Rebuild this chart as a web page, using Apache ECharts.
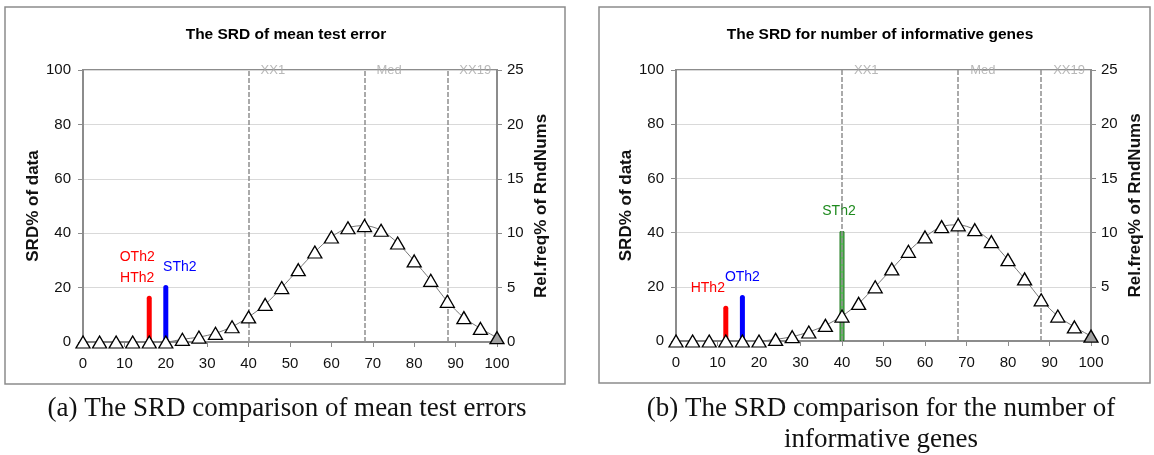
<!DOCTYPE html>
<html>
<head>
<meta charset="utf-8">
<title>SRD comparison</title>
<script src="https://cdn.jsdelivr.net/npm/echarts@6/dist/echarts.min.js"></script>
<style>
  html, body { margin: 0; padding: 0; background: #fff; }
  #main { width: 1154px; height: 455px; }
</style>
</head>
<body>
<div id="main"></div>
<script>
// x positions of the reference distribution (percent)
var xPos = [0, 4, 8, 12, 16, 20, 24, 28, 32, 36, 40, 44, 48, 52, 56, 60, 64, 68, 72, 76, 80, 84, 88, 92, 96, 100];
// Rel.freq% of RndNums
var relFreqA = [0, 0, 0, 0, 0, 0, 0.25, 0.45, 0.8, 1.4, 2.3, 3.45, 5.0, 6.65, 8.27, 9.65, 10.5, 10.7, 10.27, 9.1, 7.45, 5.67, 3.74, 2.24, 1.25, 0.4];
var relFreqB = [0, 0, 0, 0, 0, 0, 0.15, 0.4, 0.83, 1.44, 2.3, 3.47, 5.0, 6.65, 8.27, 9.6, 10.55, 10.72, 10.27, 9.16, 7.5, 5.73, 3.8, 2.3, 1.3, 0.45];

// reference lines
var refLines = [40, 68, 88];
var refNames = ['XX1', 'Med', 'XX19'];

// threshold bars (SRD% of data)
var barPosA = [16, 20];
var barValA = [17, 21];
var barNameA = ['OTh2\nHTh2', 'STh2'];

var barPosB = [12, 16, 40];
var barValB = [13, 17, 40.5];
var barNameB = ['HTh2', 'OTh2', 'STh2'];

var titleA = 'The SRD of mean test error';
var titleB = 'The SRD for number of informative genes';
var captionA = '(a) The SRD comparison of mean test errors';
var captionB = '(b) The SRD comparison for the number of\ninformative genes';

var chart = echarts.init(document.getElementById('main'));

var axisGray = '#8c8c8c';
var sans = '"Liberation Sans", Arial, sans-serif';

function makeX(idx) {
  return {
    type: 'value', gridIndex: idx, min: 0, max: 100, interval: 10,
    axisLine: { show: true, lineStyle: { color: axisGray, width: 2 } },
    axisTick: { show: true, length: 5, lineStyle: { color: axisGray } },
    axisLabel: { color: '#111', fontSize: 15, fontFamily: sans, margin: 14 },
    splitLine: { show: false }
  };
}
function makeYLeft(idx) {
  return {
    type: 'value', gridIndex: idx, min: 0, max: 100, interval: 20, position: 'left',
    name: 'SRD% of data', nameLocation: 'middle', nameGap: 40,
    nameTextStyle: { fontSize: 17, fontWeight: 'bold', fontFamily: sans, color: '#111' },
    axisLine: { show: true, lineStyle: { color: axisGray, width: 2 } },
    axisTick: { show: true, length: 5, lineStyle: { color: axisGray } },
    axisLabel: { color: '#111', fontSize: 15, fontFamily: sans, margin: 12 },
    splitLine: { show: true, lineStyle: { color: '#d9d9d9', width: 1 } }
  };
}
function makeYRight(idx) {
  return {
    type: 'value', gridIndex: idx, min: 0, max: 25, interval: 5, position: 'right',
    name: 'Rel.freq% of RndNums', nameLocation: 'middle', nameGap: 36,
    nameTextStyle: { fontSize: 17, fontWeight: 'bold', fontFamily: sans, color: '#111' },
    axisLine: { show: true, lineStyle: { color: axisGray, width: 2 } },
    axisTick: { show: true, length: 5, lineStyle: { color: axisGray } },
    axisLabel: { color: '#111', fontSize: 15, fontFamily: sans, margin: 10 },
    splitLine: { show: false }
  };
}

function curveSeries(idx, vals) {
  var last = vals.length - 1;
  return {
    type: 'line', xAxisIndex: idx, yAxisIndex: idx * 2 + 1,
    data: xPos.map(function (x, i) { return [x, vals[i]]; }),
    smooth: 0.3, clip: false, z: 5,
    symbol: 'triangle', symbolSize: [14, 12],
    lineStyle: { color: '#777', width: 1 },
    itemStyle: {
      color: function (p) { return p.dataIndex === last ? '#a0a0a0' : '#fff'; },
      borderColor: '#000', borderWidth: 1.3
    }
  };
}

function refSeries(idx) {
  return {
    type: 'scatter', xAxisIndex: idx, yAxisIndex: idx * 2,
    symbolSize: 0, silent: true, clip: false,
    data: refLines.map(function (x, i) { return { value: [x, 100], name: refNames[i] }; }),
    label: {
      show: true, position: 'right', distance: 12, formatter: '{b}',
      color: '#a6a6a6', fontSize: 13, fontFamily: sans
    },
    markLine: {
      symbol: 'none', silent: true, label: { show: false },
      lineStyle: { color: '#8f8f8f', type: [5, 2], width: 1.5 },
      data: refLines.map(function (x) { return { xAxis: x }; })
    }
  };
}

function barSeries(idx, pos, vals, names, colors, offsets) {
  return {
    type: 'bar', xAxisIndex: idx, yAxisIndex: idx * 2,
    barWidth: 5, z: 4,
    data: pos.map(function (x, i) {
      var c = colors[i];
      return {
        value: [x, vals[i]], name: names[i],
        itemStyle: {
          color: c.fill, borderColor: c.border || c.fill, borderWidth: c.border ? 1 : 0,
          borderRadius: c.border ? 0 : [3, 3, 0, 0]
        },
        label: {
          show: true, position: 'top', distance: 7, formatter: '{b}',
          offset: offsets[i], color: c.text, fontSize: 14, fontFamily: sans, lineHeight: 21
        }
      };
    })
  };
}

var option = {
  animation: false,
  backgroundColor: '#fff',
  grid: [
    { left: 83, top: 70, width: 414, height: 272, show: true, borderColor: axisGray, borderWidth: 2 },
    { left: 676, top: 70, width: 415, height: 271, show: true, borderColor: axisGray, borderWidth: 2 }
  ],
  xAxis: [makeX(0), makeX(1)],
  yAxis: [makeYLeft(0), makeYRight(0), makeYLeft(1), makeYRight(1)],
  series: [
    refSeries(0),
    barSeries(0, barPosA, barValA, barNameA,
      [{ fill: '#ff0000', text: '#ff0000' }, { fill: '#0000ff', text: '#0000ff' }],
      [[-12, 0], [14, 0]]),
    curveSeries(0, relFreqA),
    refSeries(1),
    barSeries(1, barPosB, barValB, barNameB,
      [{ fill: '#ff0000', text: '#ff0000' }, { fill: '#0000ff', text: '#0000ff' },
       { fill: '#5cb85c', border: '#1e7b1e', text: '#1e8a1e' }],
      [[-18, 0], [0, 0], [-3, -3]]),
    curveSeries(1, relFreqB)
  ],
  graphic: [
    { type: 'rect', silent: true, z: -1, shape: { x: 5, y: 7, width: 560, height: 377 },
      style: { fill: 'none', stroke: '#8c8c8c', lineWidth: 1.5 } },
    { type: 'rect', silent: true, z: -1, shape: { x: 599, y: 7, width: 551, height: 376 },
      style: { fill: 'none', stroke: '#8c8c8c', lineWidth: 1.5 } },
    { type: 'text', x: 286, y: 35, style: { text: titleA, textAlign: 'center', textVerticalAlign: 'middle',
      font: 'bold 15.5px ' + sans, fill: '#000' } },
    { type: 'text', x: 880, y: 35, style: { text: titleB, textAlign: 'center', textVerticalAlign: 'middle',
      font: 'bold 15.5px ' + sans, fill: '#000' } },
    { type: 'text', x: 287, y: 409, style: { text: captionA, textAlign: 'center', textVerticalAlign: 'middle',
      font: '27px "Liberation Serif", serif', fill: '#111' } },
    { type: 'text', x: 881, y: 393, style: { text: captionB, textAlign: 'center', textVerticalAlign: 'top',
      font: '27px "Liberation Serif", serif', fill: '#111', lineHeight: 31 } }
  ]
};

chart.setOption(option);
</script>
</body>
</html>
